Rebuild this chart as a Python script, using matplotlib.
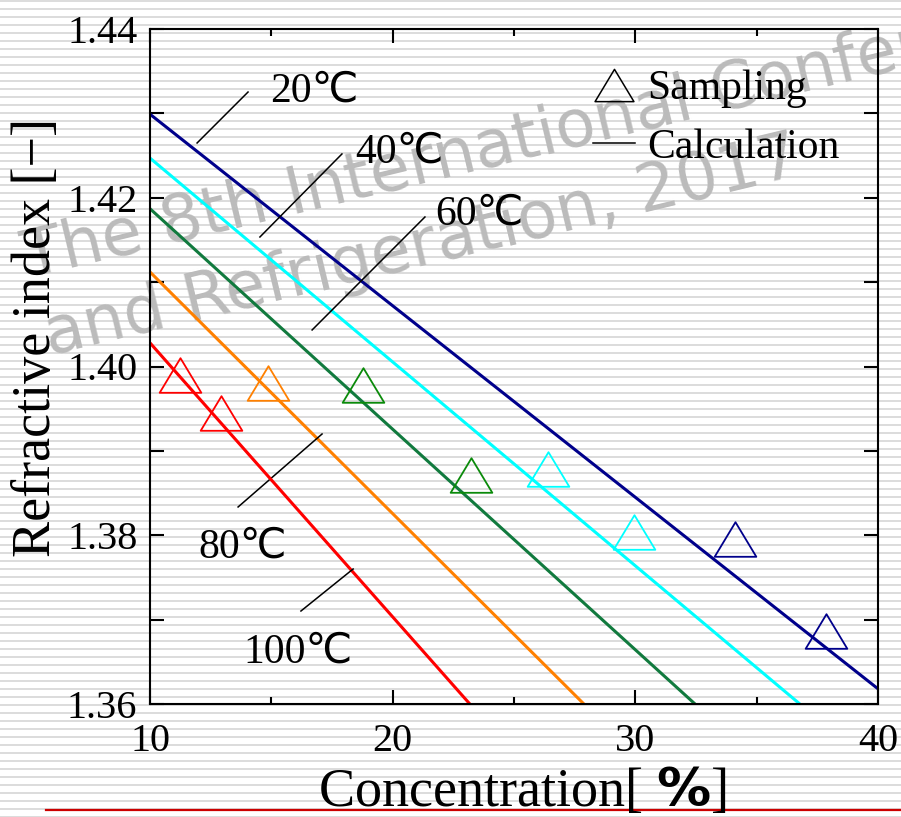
import matplotlib
matplotlib.use("Agg")
import matplotlib.pyplot as plt
from matplotlib.path import Path
from matplotlib.lines import Line2D
from matplotlib.ticker import FixedLocator, FuncFormatter

# Datos
temps = ["20℃", "40℃", "60℃", "80℃", "100℃"]
line_colors = ["#00008b", "#00ffff", "#117a3e", "#ff8000", "#ff0000"]
mark_colors = ["#00008b", "#00ffff", "#0a8a0a", "#ff8000", "#ff0000"]

# linea de calculo: (x0, y0) -> (x1, y1)
calc_x = [[10, 40.0], [10, 36.78], [10, 32.46], [10, 27.88], [10, 23.18]]
calc_y = [[1.4299, 1.3618], [1.4247, 1.36], [1.4187, 1.36], [1.4112, 1.36], [1.4028, 1.36]]

# muestras
samp_x = [[34.10, 37.85], [26.40, 29.94], [18.78, 23.23], [14.86], [11.24, 12.93]]
samp_y = [[1.3796, 1.3686], [1.3879, 1.3804], [1.3978, 1.3872], [1.3980], [1.3990, 1.3945]]

# etiquetas de temperatura: texto (x, y) y linea guia
label_pos = [(14.94, 1.43135), (18.45, 1.42412), (21.74, 1.41677), (11.98, 1.3773), (13.83, 1.36486)]
leader_x = [[11.94, 14.04], [14.53, 17.91], [16.68, 21.33], [13.63, 17.09], [16.22, 18.37]]
leader_y = [[1.42649, 1.43253], [1.41535, 1.42519], [1.40433, 1.41772], [1.38335, 1.392], [1.37102, 1.376]]

serif = ["Liberation Serif", "DejaVu Sans"]
plt.rcParams["mathtext.fontset"] = "custom"
plt.rcParams["mathtext.sf"] = "DejaVu Sans:bold"

# triangulo ancho (mas ancho que alto)
tri = Path([(-1, -0.83), (1, -0.83), (0, 0.83), (-1, -0.83)],
           [Path.MOVETO, Path.LINETO, Path.LINETO, Path.CLOSEPOLY])

W, H = 901, 817
fig = plt.figure(figsize=(W / 100, H / 100), dpi=100)

# fondo con rayas, marca de agua y linea roja
bg = fig.add_axes([0, 0, 1, 1], zorder=-1)
bg.set_xlim(0, W)
bg.set_ylim(H, 0)
bg.axis("off")
for yy in range(0, H, 8):
    bg.axhspan(yy, yy + 2, color="#dcdcdc", lw=0)
bg.text(28, 278, "The 8th International Conference on Cryogenics", rotation=13.5,
        rotation_mode="anchor", ha="left", va="baseline", fontsize=47,
        color="#bbbbbb", family="DejaVu Sans")
bg.text(50, 355, "and Refrigeration, 2017", rotation=13.5,
        rotation_mode="anchor", ha="left", va="baseline", fontsize=47,
        color="#bbbbbb", family="DejaVu Sans")
bg.plot([46, W], [810, 810], color="#cc0000", lw=1.6)

ax = fig.add_axes([150 / W, 113 / H, 728 / W, 675 / H])
ax.set_facecolor("none")

for i in range(len(temps)):
    ax.plot(calc_x[i], calc_y[i], color=line_colors[i], lw=2.2, solid_capstyle="butt")
    ax.plot(samp_x[i], samp_y[i], ls="none", marker=tri, markersize=30,
            mfc="none", mec=mark_colors[i], mew=1.3)
    ax.plot(leader_x[i], leader_y[i], color="k", lw=1.1)
    ax.text(label_pos[i][0], label_pos[i][1], temps[i], fontsize=30,
            family=serif, ha="left", va="baseline")

ax.set_xlim(10, 40)
ax.set_ylim(1.36, 1.44)
ax.xaxis.set_major_locator(FixedLocator([10, 20, 30, 40]))
ax.xaxis.set_minor_locator(FixedLocator([15, 25, 35]))
ax.yaxis.set_major_locator(FixedLocator([1.36, 1.37, 1.38, 1.39, 1.40, 1.41, 1.42, 1.43, 1.44]))
ax.yaxis.set_major_formatter(FuncFormatter(
    lambda v, p: f"{v:.2f}" if round(v * 100) % 2 == 0 else ""))
ax.tick_params(which="both", direction="in", top=True, right=True, width=1.5)
ax.tick_params(which="major", length=10)
ax.tick_params(which="minor", length=5)
ax.tick_params(axis="y", pad=9)
ax.tick_params(axis="x", pad=14)
for lab in ax.get_xticklabels() + ax.get_yticklabels():
    lab.set_family(serif)
    lab.set_fontsize(29)
for s in ax.spines.values():
    s.set_linewidth(1.5)

ax.set_xlabel(r"Concentration[ $\mathsf{\%}$]", fontsize=39, family=serif)
ax.xaxis.label.set_va("baseline")
ax.xaxis.set_label_coords((522 - 150) / 728, (704 - 806) / 675)
ax.set_ylabel("Refractive index [−]", fontsize=39, family=serif)
ax.yaxis.label.set_va("center")
ax.yaxis.set_label_coords((37 - 150) / 728, (704 - 337) / 675)

handles = [Line2D([], [], ls="none", marker=tri, markersize=28, mfc="none", mec="k", mew=1.1),
           Line2D([], [], color="k", lw=1.1)]
ax.legend(handles, ["Sampling", "Calculation"], loc="upper left",
          bbox_to_anchor=((593 - 150) / 728, (704 - 70) / 675), frameon=False,
          borderpad=0, borderaxespad=0, handlelength=1.0, handletextpad=0.3,
          labelspacing=0.47, prop={"family": serif, "size": 30})

fig.savefig("out.png", dpi=100)
